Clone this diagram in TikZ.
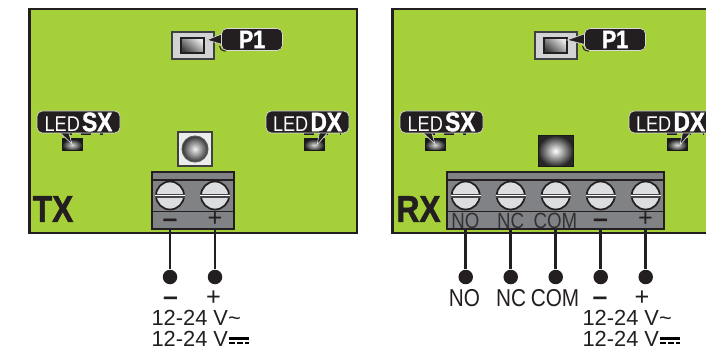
\documentclass[tikz,border=0pt]{standalone}
\usepackage{fontspec}
\setmainfont{Liberation Sans}
\newfontfamily\narrowfont[FakeStretch=0.85,BoldFeatures={FakeBold=1.5}]{Liberation Sans}

\tikzset{every picture/.style={line width=0.75pt}}
\tikzset{
  board/.style={draw={rgb, 255:red, 35; green, 31; blue, 32 },line width=1.7pt,fill={rgb, 255:red, 166; green, 208; blue, 57 }},
  block/.style={draw={rgb, 255:red, 35; green, 31; blue, 32 },line width=1.4pt,fill={rgb, 255:red, 128; green, 130; blue, 133 },inner sep=0pt},
  blockline/.style={draw={rgb, 255:red, 35; green, 31; blue, 32 },line width=1.1pt},
  screwhead/.style={circle,draw={rgb, 255:red, 35; green, 31; blue, 32 },line width=1.3pt,fill={rgb, 255:red, 220; green, 221; blue, 222 },minimum size=28*0.75pt,inner sep=0pt},
  screwslot/.style={draw={rgb, 255:red, 70; green, 70; blue, 72 },line width=0.8pt,double=white,double distance=1.4pt},
  wire/.style={draw={rgb, 255:red, 35; green, 31; blue, 32 },line width=1.9pt},
  wiredot/.style={circle,fill={rgb, 255:red, 35; green, 31; blue, 32 },minimum size=14.5*0.75pt,inner sep=0pt},
  trimmer/.style={rectangle,draw={rgb, 255:red, 65; green, 64; blue, 66 },line width=0.9pt,fill={rgb, 255:red, 209; green, 211; blue, 212 },minimum width=42*0.75pt,minimum height=27*0.75pt,inner sep=0pt},
  trimmerkey/.style={rectangle,draw={rgb, 255:red, 35; green, 31; blue, 32 },line width=0.9pt,bottom color=black!75,top color=black!8,shading angle=-40,minimum width=23*0.75pt,minimum height=15*0.75pt,inner sep=0pt},
  ledchip/.style={rectangle,inner color=black!15,outer color=black!90,draw=black!90,minimum width=20*0.75pt,minimum height=12*0.75pt,inner sep=0pt},
  tag/.style={rectangle,rounded corners=4pt,draw=black!15,line width=0.5pt,fill={rgb, 255:red, 35; green, 31; blue, 32 },text=white,inner sep=0pt,minimum height=22*0.75pt},
  tagtip/.style={draw=black!15,line width=0.5pt,fill={rgb, 255:red, 35; green, 31; blue, 32 }},
  tagtrace/.style={draw={rgb, 255:red, 35; green, 31; blue, 32 },line width=0.8pt},
  blocktext/.style={inner sep=0pt,text={rgb, 255:red, 50; green, 50; blue, 52 },font=\narrowfont\fontsize{16.5}{18}\selectfont},
  signtext/.style={inner sep=0pt,text={rgb, 255:red, 35; green, 31; blue, 32 },font=\fontsize{19}{21}\selectfont},
  signbar/.style={inner sep=0pt,text={rgb, 255:red, 35; green, 31; blue, 32 },font=\bfseries\fontsize{20}{22}\selectfont},
  wiretext/.style={inner sep=0pt,text={rgb, 255:red, 35; green, 31; blue, 32 },font=\narrowfont\fontsize{18.3}{20}\selectfont},
  volttext/.style={anchor=base west,inner sep=0pt,text={rgb, 255:red, 35; green, 31; blue, 32 },font=\fontsize{16.4}{19}\selectfont},
  boardname/.style={inner sep=0pt,text={rgb, 255:red, 35; green, 31; blue, 32 },font=\narrowfont\bfseries\fontsize{28}{30}\selectfont},
}
\newcommand{\ledtext}[1]{{\narrowfont\fontsize{16}{16}\selectfont LED}\,{\narrowfont\bfseries\fontsize{20}{20}\selectfont #1}}
\newcommand{\ptext}{{\narrowfont\bfseries\fontsize{19}{19}\selectfont P1}\hspace{3pt}}

\begin{document}
\begin{tikzpicture}[x=0.75pt,y=0.75pt,yscale=-1,xscale=1]
\useasboundingbox (0,0) rectangle (706,349);

%Shape: Rectangle [TX board]
\draw [board] (29.5,9) rectangle (357,233);
%Shape: Rectangle [RX board]
\draw [board] (392.5,9) rectangle (720,233);

%Shape: Rectangle [TX terminal block]
\draw (193,200.5) node (txblock) [block,minimum width=82*0.75pt,minimum height=57*0.75pt] {};
\draw [blockline] (152,180) -- (234,180);
\draw [blockline] (152,211.5) -- (234,211.5);
%Shape: Rectangle [RX terminal block]
\draw (555.5,200.5) node (rxblock) [block,minimum width=217*0.75pt,minimum height=57*0.75pt] {};
\draw [blockline] (447,180) -- (664,180);
\draw [blockline] (447,211.5) -- (664,211.5);

%Screws TX
\draw (170,195.5) node (txscrewm) [screwhead] {};
\draw [screwslot] (txscrewm.west) -- (txscrewm.east);
\draw (215,195.5) node (txscrewp) [screwhead] {};
\draw [screwslot] (txscrewp.west) -- (txscrewp.east);
%Screws RX
\draw (465.7,195.5) node (rxscrewno) [screwhead] {};
\draw [screwslot] (rxscrewno.west) -- (rxscrewno.east);
\draw (510.7,195.5) node (rxscrewnc) [screwhead] {};
\draw [screwslot] (rxscrewnc.west) -- (rxscrewnc.east);
\draw (555.7,195.5) node (rxscrewcom) [screwhead] {};
\draw [screwslot] (rxscrewcom.west) -- (rxscrewcom.east);
\draw (600.7,195.5) node (rxscrewm) [screwhead] {};
\draw [screwslot] (rxscrewm.west) -- (rxscrewm.east);
\draw (645.7,195.5) node (rxscrewp) [screwhead] {};
\draw [screwslot] (rxscrewp.west) -- (rxscrewp.east);

%Wires and end dots TX
\draw (170,277) node (txdotm) [wiredot] {};
\draw (215,277) node (txdotp) [wiredot] {};
\draw [wire] (txdotm |- txblock.south) -- (txdotm);
\draw [wire] (txdotp |- txblock.south) -- (txdotp);
%Wires and end dots RX
\draw (465.7,277) node (rxdotno) [wiredot] {};
\draw (510.7,277) node (rxdotnc) [wiredot] {};
\draw (555.7,277) node (rxdotcom) [wiredot] {};
\draw (600.7,277) node (rxdotm) [wiredot] {};
\draw (645.7,277) node (rxdotp) [wiredot] {};
\draw [wire] (rxdotno |- rxblock.south) -- (rxdotno);
\draw [wire] (rxdotnc |- rxblock.south) -- (rxdotnc);
\draw [wire] (rxdotcom |- rxblock.south) -- (rxdotcom);
\draw [wire] (rxdotm |- rxblock.south) -- (rxdotm);
\draw [wire] (rxdotp |- rxblock.south) -- (rxdotp);

%Trimmers P1
\draw (193,45.5) node (txtrimmer) [trimmer] {};
\draw (192.5,45.5) node (txkey) [trimmerkey] {};
\draw (556,45.5) node (rxtrimmer) [trimmer] {};
\draw (555.5,45.5) node (rxkey) [trimmerkey] {};

%Push button TX
\draw (195,149) node (txbutton) [rectangle,draw={rgb, 255:red, 65; green, 64; blue, 66 },line width=0.8pt,fill={rgb, 255:red, 235; green, 236; blue, 236 },minimum size=34*0.75pt,inner sep=0pt] {};
\draw (195,149) node (txball) [circle,inner color=black!5,outer color=black!80,draw=black!65,minimum size=26*0.75pt,inner sep=0pt] {};
%Sensor RX
\draw (555.5,151) node (rxsensor) [rectangle,inner color=white,outer color=black!85,draw=black!90,minimum width=35*0.75pt,minimum height=31*0.75pt,inner sep=0pt] {};

%LEDs
\draw (72,145) node (txledsx) [ledchip] {};
\draw (314,145) node (txleddx) [ledchip] {};
\draw (435,145) node (rxledsx) [ledchip] {};
\draw (677,145) node (rxleddx) [ledchip] {};

%Traces below the tags
\draw [tagtrace] (219.5,46) .. controls (219.5,49) and (222,51) .. (226,51);
\draw [tagtrace] (582.5,46) .. controls (582.5,49) and (585,51) .. (589,51);
\draw [tagtrace] (62,134) -- (72,134) (81,134) -- (91,134) (100,134) -- (103,134);
\draw [tagtrace] (304,134) -- (314,134) (325,134) -- (328,134) (340,134) -- (341,134);
\draw [tagtrace] (425,134) -- (435,134) (444,134) -- (454,134) (463,134) -- (466,134);
\draw [tagtrace] (667,134) -- (677,134) (688,134) -- (691,134) (703,134) -- (704,134);

%Tag tips
\draw [tagtip] (224,33) -- (207,40) -- (224,45) -- cycle;
\draw [tagtip] (587,33) -- (567,40) -- (587,45) -- cycle;
\draw [tagtip] (57,130) -- (72,144) -- (68,130) -- cycle;
\draw [tagtip] (330,130) -- (317,145) -- (320,130) -- cycle;
\draw [tagtip] (420,130) -- (435,144) -- (431,130) -- cycle;
\draw [tagtip] (693,130) -- (680,145) -- (683,130) -- cycle;

% Text Node
\draw (252,39.5) node (txtag) [tag,minimum width=61*0.75pt] {\ptext};
% Text Node
\draw (615,39.5) node (rxtag) [tag,minimum width=61*0.75pt] {\ptext};
% Text Node
\draw (78.5,122) node (txtagsx) [tag,minimum width=83*0.75pt] {\ledtext{SX}};
% Text Node
\draw (307.5,122) node (txtagdx) [tag,minimum width=83*0.75pt] {\ledtext{DX}};
% Text Node
\draw (441.5,122) node (rxtagsx) [tag,minimum width=83*0.75pt] {\ledtext{SX}};
% Text Node
\draw (670.5,122) node (rxtagdx) [tag,minimum width=83*0.75pt] {\ledtext{DX}};

% Text Node
\draw (53,209) node (txname) [boardname] {TX};
% Text Node
\draw (418.5,209) node (rxname) [boardname] {RX};

% Text Node
\draw (465.5,221) node (blockno) [blocktext] {NO};
% Text Node
\draw (510.5,221) node (blocknc) [blocktext] {NC};
% Text Node
\draw (555.5,221) node (blockcom) [blocktext] {COM};
% Text Node
\draw (170,223.5) node (txblockm) [signbar] {–};
% Text Node
\draw (215,219) node (txblockp) [signtext] {+};
% Text Node
\draw (600.5,223.5) node (rxblockm) [signbar] {–};
% Text Node
\draw (645.5,219) node (rxblockp) [signtext] {+};

% Text Node
\draw (170.5,301.5) node (txsignm) [signbar] {–};
% Text Node
\draw (213.5,298) node (txsignp) [signtext] {+};
% Text Node
\draw (600,301.5) node (rxsignm) [signbar] {–};
% Text Node
\draw (642,298) node (rxsignp) [signtext] {+};
% Text Node
\draw (464.5,298.5) node (wireno) [wiretext] {NO};
% Text Node
\draw (511,298.5) node (wirenc) [wiretext] {NC};
% Text Node
\draw (555,298.5) node (wirecom) [wiretext] {COM};

% Text Node
\draw (151,325.5) node (txacvolt) [volttext] {12-24 V\symbol{126}};
% Text Node
\draw (151,346.5) node (txdcvolt) [volttext] {12-24 V};
% Text Node
\draw (582,325.5) node (rxacvolt) [volttext] {12-24 V\symbol{126}};
% Text Node
\draw (582,346.5) node (rxdcvolt) [volttext] {12-24 V};

%Straight Lines [DC signs]
\draw [line width=1.8pt] (229,338.5) -- (249,338.5);
\draw [line width=1pt,dash pattern={on 4.5pt off 1.5pt}] (229,343) -- (249,343);
\draw [line width=1.8pt] (660,338.5) -- (680,338.5);
\draw [line width=1pt,dash pattern={on 4.5pt off 1.5pt}] (660,343) -- (680,343);

\end{tikzpicture}
\end{document}
